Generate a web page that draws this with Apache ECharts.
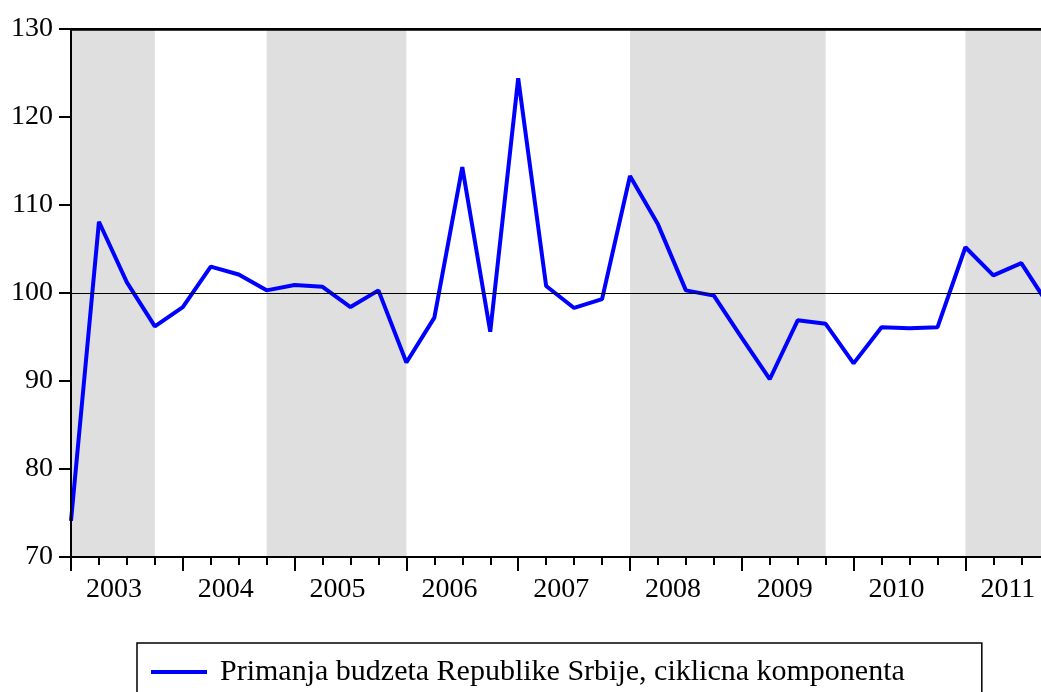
<!DOCTYPE html>
<html>
<head>
<meta charset="utf-8">
<script src="https://cdn.jsdelivr.net/npm/echarts@6/dist/echarts.min.js"></script>
<style>
  html, body { margin: 0; padding: 0; background: #fff; }
  #chart { width: 1041px; height: 692px; }
</style>
</head>
<body>
<div id="chart"></div>
<script>
// quarterly observations, 2003Q1 .. 2011Q4
const years = [2003, 2004, 2005, 2006, 2007, 2008, 2009, 2010, 2011];
const values = [
  74.1, 108.1, 101.2, 96.2,
  98.4, 103.0, 102.1, 100.3,
  100.9, 100.7, 98.4, 100.3,
  92.1, 97.2, 114.3, 95.6,
  124.4, 100.8, 98.3, 99.3,
  113.3, 107.8, 100.3, 99.7,
  94.9, 90.2, 96.9, 96.5,
  92.0, 96.1, 96.0, 96.1,
  105.2, 102.0, 103.4, 98.5
];
// shaded periods as quarter indices [from, to]
const bands = [[0, 3], [7, 12], [20, 27], [32, 36]];
const seriesName = 'Primanja budzeta Republike Srbije, ciklicna komponenta';
const yTicks = { min: 70, max: 130, step: 10 };

const FONT = 'Liberation Serif';
const chart = echarts.init(document.getElementById('chart'));

chart.setOption({
  animation: false,
  backgroundColor: '#fff',
  grid: {
    left: 71,
    top: 29,
    height: 528,
    width: 36 * 27.95,
    outerBoundsMode: 'none',
    containLabel: false,
    show: true,
    borderColor: '#000',
    borderWidth: 2,
    backgroundColor: '#fff'
  },
  legend: {
    data: [seriesName],
    left: 137,
    top: 643,
    orient: 'horizontal',
    icon: 'rect',
    itemWidth: 56,
    itemHeight: 4,
    padding: [14, 77, 30, 14],
    borderColor: '#000',
    borderWidth: 1.5,
    textStyle: {
      fontFamily: FONT,
      fontSize: 30,
      color: '#000',
      padding: [0, 0, 0, 8]
    }
  },
  xAxis: [
    {
      type: 'value',
      min: 0,
      max: 36,
      interval: 4,
      z: 5,
      splitLine: { show: false },
      axisLine: { show: true, onZero: false, lineStyle: { color: '#000', width: 2 } },
      axisTick: { show: true, length: 14, lineStyle: { color: '#000', width: 2 } },
      minorTick: { show: true, splitNumber: 4, length: 8, lineStyle: { color: '#000', width: 2 } },
      axisLabel: {
        align: 'left',
        margin: 19,
        padding: [0, 0, 0, 15],
        fontFamily: FONT,
        fontSize: 28,
        color: '#000',
        formatter: function (v) {
          const y = years[v / 4];
          return y === undefined ? '' : String(y);
        }
      }
    },
    {
      // top frame line
      type: 'value',
      position: 'top',
      min: 0,
      max: 36,
      z: 5,
      splitLine: { show: false },
      axisLine: { show: true, onZero: false, lineStyle: { color: '#000', width: 2.5 } },
      axisTick: { show: false },
      axisLabel: { show: false }
    }
  ],
  yAxis: {
    type: 'value',
    min: yTicks.min,
    max: yTicks.max,
    interval: yTicks.step,
    z: 5,
    splitLine: { show: false },
    axisLine: { show: true, lineStyle: { color: '#000', width: 2 } },
    axisTick: { show: true, length: 12, lineStyle: { color: '#000', width: 2 } },
    axisLabel: {
      margin: 18,
      fontFamily: FONT,
      fontSize: 28,
      color: '#000'
    }
  },
  series: [
    {
      name: seriesName,
      type: 'line',
      data: values.map((v, i) => [i, v]),
      showSymbol: false,
      symbol: 'none',
      lineStyle: { color: '#0000ff', width: 4 },
      itemStyle: { color: '#0000ff' },
      markArea: {
        silent: true,
        itemStyle: { color: '#dfdfdf' },
        data: bands.map(b => [{ xAxis: b[0] }, { xAxis: b[1] }])
      },
      markLine: {
        silent: true,
        symbol: ['none', 'none'],
        label: { show: false },
        lineStyle: { color: '#000', width: 1, type: 'solid' },
        data: [{ yAxis: 100 }]
      }
    }
  ]
});
</script>
</body>
</html>
